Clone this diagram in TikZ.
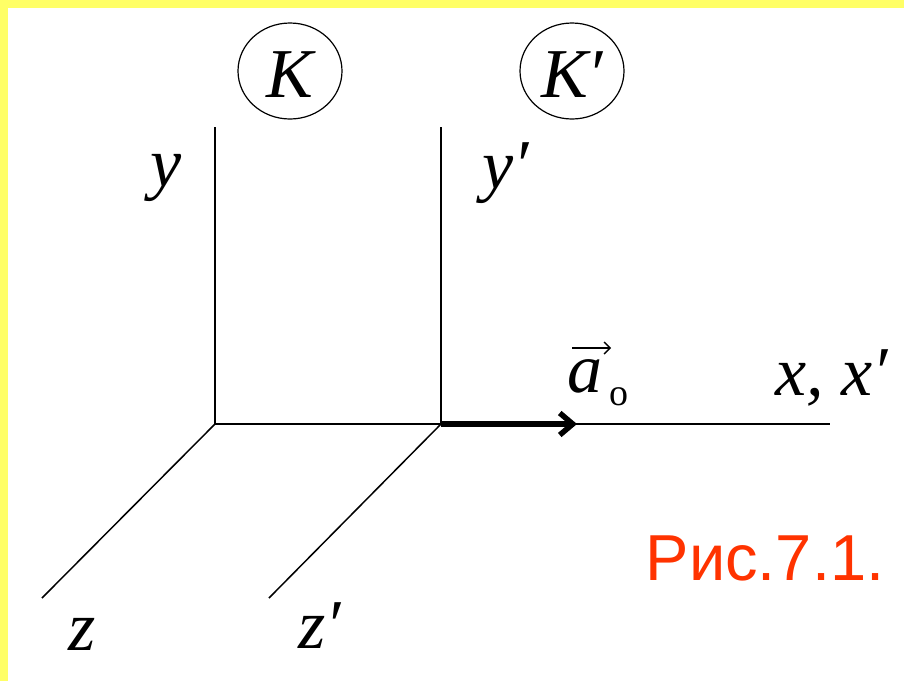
\documentclass[tikz,border=0pt]{standalone}
\usepackage{fontspec}
\setmainfont{Liberation Serif}
\newfontfamily\capfont{Liberation Sans}
\usetikzlibrary{arrows.meta,shapes.geometric}
\definecolor{bandyellow}{HTML}{FFFF66}
\definecolor{capred}{HTML}{FF3300}
\begin{document}
\begin{tikzpicture}[x=1pt,y=-1pt,
  axis/.style={line width=1.5pt},
  lbl/.style={inner sep=0pt, anchor=base, font=\fontsize{70}{70}\selectfont\itshape},
  ring/.style={draw, ellipse, line width=1.2pt, minimum width=104pt, minimum height=96pt, inner sep=0pt},
]
\useasboundingbox (0,0) rectangle (904,681);
\fill[white] (0,0) rectangle (904,681);
\fill[bandyellow] (0,0) rectangle (904,8);
\fill[bandyellow] (0,0) rectangle (8,681);

% frame labels
\node[ring] (cK) at (290,71) {};
\node[lbl] (K) at (290,97) {K};
\node[ring] (cK2) at (572,71) {};
\node[lbl] (K2) at (572,97) {K′};

% axes points
\coordinate (O) at (215,424);
\coordinate (O2) at (441,424);
\coordinate (yT) at (215,127);
\coordinate (y2T) at (441,127);
\coordinate (xE) at (830,424);
\coordinate (zE) at (42,598);
\coordinate (z2E) at (269,598);
\coordinate (aE) at (577,424);

\draw[axis] (yT) -- (O) -- (xE);
\draw[axis] (y2T) -- (O2);
\draw[axis] (O) -- (zE);
\draw[axis] (O2) -- (z2E);
\draw[line width=5.5pt, -{Straight Barb[length=13pt,width=22pt]}] (O2) -- (aE);

% axis labels
\node[lbl] (ly) at (166,186) {y};
\node[lbl] (ly2) at (506,188) {y′};
\node[lbl] (lz) at (82,650) {z};
\node[lbl] (lz2) at (320,648) {z′};
\node[lbl] (lx) at (832,395) {x, x′};

% acceleration vector label
\node[lbl] (a) at (585,392) {a};
\node[inner sep=0pt, anchor=base, font=\fontsize{38}{38}\selectfont] (a0) at (619,405) {o};
\draw[line width=1.4pt, -{Straight Barb[length=6pt,width=12pt]}] ([shift={(-13,-44)}]a.base) -- ([shift={(26,-44)}]a.base);

% caption
\node[inner sep=0pt, anchor=base, text=capred, font=\capfont\fontsize{65}{65}\selectfont] (cap) at (765,580) {Рис.7.1.};
\end{tikzpicture}
\end{document}
